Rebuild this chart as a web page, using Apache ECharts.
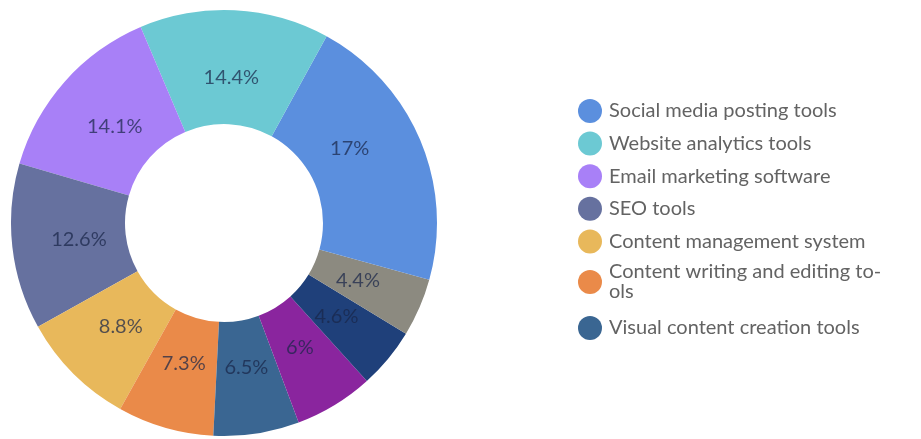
<!DOCTYPE html>
<html>
<head>
<meta charset="utf-8">
<script src="https://cdn.jsdelivr.net/npm/echarts@6/dist/echarts.min.js"></script>
<style>
  html, body { margin: 0; padding: 0; background: #ffffff; }
  #chart { width: 921px; height: 439px; }
</style>
</head>
<body>
<div id="chart"></div>
<script>
// ---- data ----
const categories = [
  'Social media posting tools',
  'Website analytics tools',
  'Email marketing software',
  'SEO tools',
  'Content management system',
  'Content writing and editing tools',
  'Visual content creation tools',
  'Marketing automation platforms',
  'Project management tools',
  'Customer relationship management',
  'Other tools'
];
const values = [17, 14.4, 14.1, 12.6, 8.8, 7.3, 6.5, 6.0, 4.6, 4.4, 4.3];
const palette = ['#5b8fde', '#6cc9d3', '#a880f7', '#66719f', '#e8b85b', '#ea8a49', '#3a6692', '#8a259e', '#1f407a', '#8c8a80'];
const legendNamesMain = categories.slice(0, 6);
const legendNamesLast = categories.slice(6, 7);
const hiddenLabelNames = ['Other tools'];
const wrappedLegendText = { 'Content writing and editing tools': 'Content writing and editing to-\nols' };

const chart = echarts.init(document.getElementById('chart'), null, { renderer: 'canvas' });

const pieData = categories.map((n, i) => ({ name: n, value: values[i] }));
const labelData = categories.map((n, i) => ({
  name: n,
  value: values[i],
  label: { show: hiddenLabelNames.indexOf(n) < 0 }
}));

const legendText = {
  fontFamily: 'Lato',
  fontSize: 20,
  lineHeight: 20,
  color: '#636363'
};

const option = {
  color: palette,
  animation: false,
  legend: [
    {
      orient: 'vertical',
      left: 578,
      top: 99,
      padding: 0,
      itemWidth: 28,
      itemHeight: 24,
      itemGap: 8.6,
      icon: 'circle',
      selectedMode: false,
      textStyle: legendText,
      formatter: name => wrappedLegendText[name] || name,
      data: legendNamesMain.map(n => wrappedLegendText[n]
        ? { name: n, textStyle: { padding: [0, 0, -20, 0] } }
        : { name: n })
    },
    {
      orient: 'vertical',
      left: 578,
      top: 316,
      padding: 0,
      itemWidth: 28,
      itemHeight: 24,
      icon: 'circle',
      selectedMode: false,
      textStyle: legendText,
      data: legendNamesLast
    }
  ],
  series: [
    {
      type: 'pie',
      center: [224, 223],
      radius: [99, 213],
      startAngle: 0,
      clockwise: false,
      silent: true,
      label: { show: false },
      labelLine: { show: false },
      itemStyle: { borderWidth: 0 },
      data: pieData
    },
    {
      type: 'pie',
      center: [224, 223],
      radius: [99, 187],
      startAngle: 0,
      clockwise: false,
      silent: true,
      itemStyle: { color: 'rgba(0,0,0,0)' },
      label: {
        show: true,
        position: 'inside',
        formatter: '{d}%',
        fontFamily: 'Lato',
        fontSize: 20,
        color: 'rgba(25,38,72,0.72)'
      },
      labelLine: { show: false },
      data: labelData
    }
  ]
};
chart.setOption(option);
</script>
</body>
</html>
